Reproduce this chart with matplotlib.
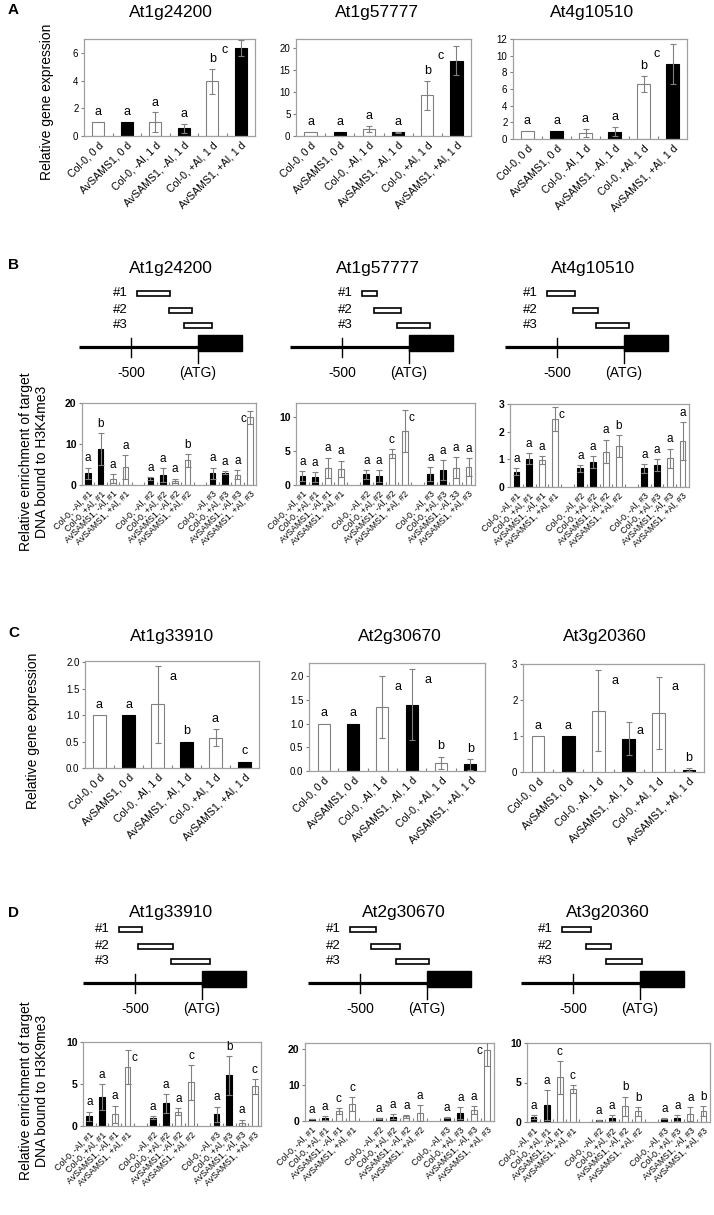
import matplotlib
matplotlib.use('Agg')
import matplotlib.pyplot as plt
from matplotlib.patches import Rectangle
import numpy as np

plt.rcParams['font.family'] = ['Liberation Sans', 'DejaVu Sans']

W, H = 714, 1215
GRAY = '#808080'
SPINE = '#a0a0a0'

# ---------------- data ----------------
expr_labels = ['Col-0, 0 d', 'AvSAMS1, 0 d', 'Col-0, -Al, 1 d',
               'AvSAMS1, -Al, 1 d', 'Col-0, +Al, 1 d', 'AvSAMS1, +Al, 1 d']
expr_colors = ['white', 'black'] * 3

# panel A
A_genes = ['At1g24200', 'At1g57777', 'At4g10510']
A_vals = [[1.0, 1.0, 1.0, 0.55, 3.95, 6.35],
          [1.0, 1.0, 1.5, 0.8, 9.2, 17.1],
          [1.0, 1.0, 0.7, 0.9, 6.6, 9.0]]
A_errs = [[0, 0, 0.7, 0.3, 0.9, 0.55],
          [0, 0, 0.7, 0.1, 3.2, 3.2],
          [0, 0, 0.5, 0.55, 1.0, 2.4]]
A_letters = ['aaaabc', 'aaaabc', 'aaaabc']
A_ymax = [7, 22, 12]
A_yticks = [[0, 2, 4, 6], [0, 5, 10, 15, 20], [0, 2, 4, 6, 8, 10, 12]]

# panel C
C_genes = ['At1g33910', 'At2g30670', 'At3g20360']
C_vals = [[1.0, 1.0, 1.2, 0.5, 0.57, 0.12],
          [1.0, 1.0, 1.35, 1.4, 0.17, 0.14],
          [1.0, 1.0, 1.7, 0.93, 1.65, 0.06]]
C_errs = [[0, 0, 0.72, 0, 0.16, 0],
          [0, 0, 0.65, 0.75, 0.13, 0.11],
          [0, 0, 1.13, 0.47, 1.0, 0.04]]
C_letters = ['aaabac', 'aaaabb', 'aaaaab']
C_ymax = [2.02, 2.28, 3.0]
C_yticks = [[0, 0.5, 1.0, 1.5, 2.0], [0, 0.5, 1.0, 1.5, 2.0], [0, 1, 2, 3]]

# ChIP panels B and D
chip_groups = ['Col-0, -Al', 'Col-0, +Al', 'AvSAMS1, -Al', 'AvSAMS1, +Al']
chip_sites = ['#1', '#2', '#3']
chip_pos = [0, 1, 2, 3, 5, 6, 7, 8, 10, 11, 12, 13]
chip_colors = ['black', 'black', 'white', 'white'] * 3
chip_labels = [f'{g}, {s}' for s in chip_sites for g in chip_groups]
chip_labels_typo = chip_labels[:10] + ['AvSAMS1, -Al, 33'] + chip_labels[11:]

B_vals = [[2.85, 8.7, 1.5, 4.3, 1.6, 2.5, 1.05, 6.0, 2.85, 3.0, 2.5, 16.5],
          [1.35, 1.15, 2.5, 2.35, 1.55, 1.35, 4.6, 7.9, 1.6, 2.2, 2.55, 2.65],
          [0.55, 1.02, 0.97, 2.46, 0.67, 0.91, 1.28, 1.48, 0.67, 0.79, 1.04, 1.65]]
B_errs = [[1.4, 3.9, 1.1, 2.9, 0.4, 1.7, 0.5, 1.6, 1.4, 0.4, 1.1, 1.5],
          [0.7, 0.7, 1.5, 1.2, 0.65, 0.85, 0.7, 3.1, 1.05, 1.4, 1.55, 1.3],
          [0.12, 0.2, 0.15, 0.44, 0.11, 0.21, 0.43, 0.39, 0.15, 0.21, 0.34, 0.69]]
B_letters = ['abaaaaabaaac', 'aaaaaaccaaaa', 'aaacaaabaaaa']
B_ymax = [20, 12, 3]
B_yticks = [[0, 10, 20], [0, 5, 10], [0, 1, 2, 3]]

D_genes = ['At1g33910', 'At2g30670', 'At3g20360']
D_vals = [[1.17, 3.43, 1.37, 7.06, 1.0, 2.7, 1.7, 5.2, 1.41, 6.05, 0.4, 4.72],
          [0.55, 0.83, 2.76, 4.8, 0.74, 1.2, 1.3, 2.2, 0.9, 2.2, 3.1, 19.8],
          [0.63, 2.18, 5.65, 4.18, 0.2, 0.5, 1.97, 1.34, 0.42, 0.5, 1.0, 1.34]]
D_errs = [[0.53, 1.57, 1.05, 2.04, 0.17, 1.1, 0.4, 2.06, 0.89, 2.3, 0.37, 0.88],
          [0.1, 0.47, 0.9, 1.9, 0.1, 0.64, 0.36, 2.3, 0.15, 1.7, 1.1, 4.5],
          [0.2, 1.9, 2.1, 0.46, 0.05, 0.34, 1.25, 0.54, 0.05, 0.42, 0.88, 0.63]]
D_letters = ['aaacaaacabac', 'aaccaaaaaaac', 'aaccaabbaaab']
D_ymax = [10, 21.6, 10]
D_yticks = [[0, 5, 10], [0, 10, 20], [0, 5, 10]]

# gene structure (bp relative to ATG) and primer amplicons #1-#3
gene_start, cds_end, marker = -888, 328, -500
B_primers = [[(-455, -209), (-216, -45), (-104, 104)],
             [(-351, -239), (-261, -60), (-90, 157)],
             [(-575, -366), (-381, -194), (-209, 37)]]
D_primers = [[(-619, -448), (-478, -216), (-231, 60)],
             [(-575, -381), (-418, -201), (-231, 15)],
             [(-582, -366), (-403, -216), (-254, 15)]]

# ---------------- drawing ----------------
fig = plt.figure(figsize=(W / 100, H / 100), dpi=100)


def px_axes(x0, y0, x1, y1):
    return fig.add_axes([x0 / W, 1 - y1 / H, (x1 - x0) / W, (y1 - y0) / H])


def bar_panel(rect, pos, vals, errs, letters, faces, ymax, yticks, labels,
              xfs, tfs, lfs, width, bold=False, side=False, fmt=None):
    ax = px_axes(*rect)
    n = len(vals)
    edges = ['black' if f == 'black' else GRAY for f in faces]
    ax.bar(pos, vals, width=width, color=faces, edgecolor=edges,
           linewidth=0.8, zorder=2)
    for p, v, e in zip(pos, vals, errs):
        if e > 0:
            ax.errorbar(p, v, yerr=e, fmt='none', ecolor=GRAY,
                        elinewidth=0.8, capsize=2.2, capthick=0.8, zorder=3)
    for i, (p, v, e, l) in enumerate(zip(pos, vals, errs, letters)):
        top = v + e
        if top > 0.85 * ymax:
            dx = -0.55 if i == n - 1 else 0.55
            ax.text(p + dx, min(top, ymax) - 0.1 * ymax, l, ha='center',
                    va='center', fontsize=lfs)
        elif side and e > 0.15 * ymax:
            ax.text(p + 0.38, v + 0.07 * ymax, l, ha='center', va='center',
                    fontsize=lfs)
        else:
            ax.text(p, top + 0.04 * ymax, l, ha='center', va='bottom',
                    fontsize=lfs)
    ax.set_xlim(pos[0] - 0.5, pos[-1] + 0.5)
    ax.set_ylim(0, ymax)
    ax.set_yticks(yticks)
    if fmt:
        ax.set_yticklabels([fmt.format(t) for t in yticks])
    ax.set_xticks(pos)
    ax.set_xticklabels(labels, rotation=45, ha='right',
                       rotation_mode='anchor', fontsize=xfs)
    ax.set_xticks(np.arange(pos[0] + 0.5, pos[-1], 1), minor=True)
    ax.tick_params(axis='x', which='major', length=0, pad=3)
    ax.tick_params(axis='x', which='minor', direction='in', length=2.5,
                   color=GRAY, width=0.8)
    ax.tick_params(axis='y', length=2, color=GRAY, labelsize=tfs, pad=2)
    if bold:
        for t in ax.get_yticklabels():
            t.set_fontweight('bold')
    for s in ax.spines.values():
        s.set_color(SPINE)
        s.set_linewidth(0.9)
    return ax


def gene_diagram(atg_px, line_px, primers):
    sc = 0.134
    ax = px_axes(atg_px - sc * 900, line_px - 65, atg_px + sc * 340, line_px + 35)
    ax.set_xlim(-900, 340)
    ax.set_ylim(35, -65)
    ax.axis('off')
    ax.plot([gene_start, 0], [0, 0], color='black', lw=2.3,
            solid_capstyle='butt')
    ax.add_patch(Rectangle((0, -12), cds_end, 16, color='black'))
    ax.plot([marker, marker], [-9, 10], color='black', lw=1)
    ax.plot([0, 0], [0, 16], color='black', lw=1)
    ax.text(marker, 26, '-500', ha='center', va='center', fontsize=10)
    ax.text(0, 26, '(ATG)', ha='center', va='center', fontsize=10)
    rows = [-54, -37, -22]
    for k, ((s, e), r) in enumerate(zip(primers, rows)):
        ax.add_patch(Rectangle((s, r - 2.5), e - s, 5, facecolor='white',
                               edgecolor='black', lw=1.2))
        ax.text(primers[0][0] - 70, r, chip_sites[k], ha='right',
                va='center', fontsize=9.5)


def title(x, y, s):
    fig.text(x / W, 1 - y / H, s, ha='center', va='center', fontsize=12.5)


def letter(y, s):
    fig.text(8 / W, 1 - y / H, s, ha='left', va='center', fontsize=11,
             fontweight='bold')


def ylab(x, y, s, fs=10):
    fig.text(x / W, 1 - y / H, s, ha='center', va='center', rotation=90,
             fontsize=fs, linespacing=1.15)


# Panel A
A_rects = [(84, 39, 255, 136), (296, 39, 471, 136), (513, 39, 687, 139)]
A_tx = [171, 377, 592]
for i in range(3):
    bar_panel(A_rects[i], list(range(6)), A_vals[i], A_errs[i], A_letters[i],
              expr_colors, A_ymax[i], A_yticks[i], expr_labels,
              7.6, 7, 9, 0.42)
    title(A_tx[i], 12, A_genes[i])
letter(10, 'A')
ylab(47, 102, 'Relative gene expression')

# Panel B
B_rects = [(82, 403, 256, 485), (296, 403, 475, 485), (510, 404, 689, 487)]
B_atg = [198, 409, 624]
B_tx = [171, 378, 593]
for i in range(3):
    labs = chip_labels_typo if i == 1 else chip_labels
    bar_panel(B_rects[i], chip_pos, B_vals[i], B_errs[i], B_letters[i],
              chip_colors, B_ymax[i], B_yticks[i], labs,
              6.3, 7.5, 8.5, 0.45, bold=True)
    gene_diagram(B_atg[i], 347, B_primers[i])
    title(B_tx[i], 268, A_genes[i])
letter(265, 'B')
ylab(34, 462, 'Relative enrichment of target\nDNA bound to H3K4me3', 10)

# Panel C
C_rects = [(85, 661, 259, 768), (309, 663, 485, 771), (523, 664, 704, 772)]
C_tx = [172, 400, 605]
C_fmt = ['{:.1f}', '{:.1f}', '{:.0f}']
for i in range(3):
    bar_panel(C_rects[i], list(range(6)), C_vals[i], C_errs[i], C_letters[i],
              expr_colors, C_ymax[i], C_yticks[i], expr_labels,
              7.6, 7, 9, 0.42, side=True, fmt=C_fmt[i])
    title(C_tx[i], 636, C_genes[i])
letter(633, 'C')
ylab(33, 731, 'Relative gene expression')

# Panel D
D_rects = [(83, 1042, 261, 1126), (305, 1043, 494, 1121), (527, 1043, 710, 1122)]
D_atg = [202, 427, 640]
D_tx = [171, 404, 608]
for i in range(3):
    bar_panel(D_rects[i], chip_pos, D_vals[i], D_errs[i], D_letters[i],
              chip_colors, D_ymax[i], D_yticks[i], chip_labels,
              6.3, 7.5, 8.5, 0.45, bold=True)
    gene_diagram(D_atg[i], 983, D_primers[i])
    title(D_tx[i], 913, D_genes[i])
letter(913, 'D')
ylab(34, 1091, 'Relative enrichment of target\nDNA bound to H3K9me3', 10)

fig.savefig('out.png', dpi=100)
